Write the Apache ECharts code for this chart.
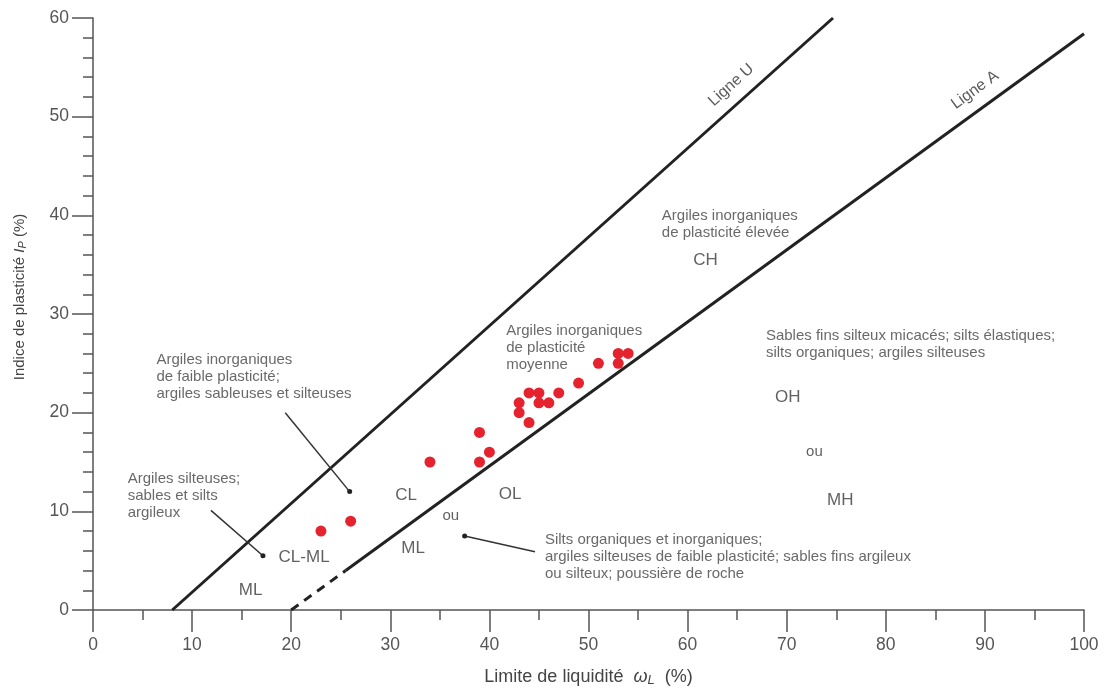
<!DOCTYPE html>
<html>
<head>
<meta charset="utf-8">
<script src="https://cdn.jsdelivr.net/npm/echarts@6/dist/echarts.min.js"></script>
<style>
  html, body { margin: 0; padding: 0; background: #fff; }
  #chart { width: 1108px; height: 688px; }
</style>
</head>
<body>
<div id="chart"></div>
<script>
// measured points (wL, Ip)
const points = [
  [23, 8], [26, 9], [34, 15], [39, 18], [39, 15], [40, 16],
  [43, 21], [43, 20], [44, 22], [45, 22], [45, 21], [46, 21], [44, 19],
  [47, 22], [49, 23], [51, 25], [53, 26], [53, 25], [54, 26]
];

// classification lines
const lineU = [[8, 0], [74.67, 60]];
const lineADashed = [[20, 0], [25.5, 4]];
const lineA = [[25.5, 4], [100, 58.4]];

// leader lines: [from, to], dot on the "to" end
const leaders = [
  [[19.4, 20.0], [25.9, 12.0]],
  [[11.9, 10.1], [17.15, 5.5]],
  [[44.6, 5.9], [37.5, 7.5]]
];

// zone names
const zoneNames = [
  [61.8, 35.4, "CH"],
  [21.3, 5.3, "CL-ML"],
  [15.9, 2.0, "ML"],
  [31.6, 11.6, "CL"],
  [42.1, 11.7, "OL"],
  [32.3, 6.3, "ML"],
  [70.1, 21.6, "OH"],
  [75.4, 11.1, "MH"]
];
const smallNames = [
  [36.1, 9.5, "ou"],
  [72.8, 16.0, "ou"]
];

// descriptive texts (left edge, vertical centre)
const notes = [
  [57.4, 39.1, "Argiles inorganiques\nde plasticité élevée"],
  [41.7, 26.6, "Argiles inorganiques\nde plasticité\nmoyenne"],
  [6.4, 23.6, "Argiles inorganiques\nde faible plasticité;\nargiles sableuses et silteuses"],
  [3.5, 11.6, "Argiles silteuses;\nsables et silts\nargileux"],
  [45.6, 5.4, "Silts organiques et inorganiques;\nargiles silteuses de faible plasticité; sables fins argileux\nou silteux; poussière de roche"],
  [67.9, 26.9, "Sables fins silteux micacés; silts élastiques;\nsilts organiques; argiles silteuses"]
];

// line names along the lines
const lineNames = [
  [64.4, 53.2, "Ligne U", 42],
  [89.0, 52.7, "Ligne A", 36]
];

const font = "Liberation Sans, Arial, sans-serif";
const ink = "#222";
const textGray = "#3a3a3a";

const chart = echarts.init(document.getElementById("chart"));

const series = [
  { type: "line", data: lineU, symbol: "none", lineStyle: { color: ink, width: 3 }, z: 3 },
  { type: "line", data: lineADashed, symbol: "none", lineStyle: { color: ink, width: 3, type: [9, 7] }, z: 3 },
  { type: "line", data: lineA, symbol: "none", lineStyle: { color: ink, width: 3 }, z: 3 }
];

leaders.forEach(([a, b]) => {
  series.push({
    type: "line",
    data: [{ value: a, symbol: "none" }, { value: b, symbol: "circle", symbolSize: 5 }],
    lineStyle: { color: "#333", width: 1.5 },
    itemStyle: { color: "#222" },
    showSymbol: true,
    silent: true,
    z: 3
  });
});

series.push({
  type: "scatter",
  data: points,
  symbolSize: 11,
  itemStyle: { color: "#e5232f", opacity: 1 },
  z: 5
});

series.push({
  type: "scatter",
  symbolSize: 0,
  silent: true,
  data: zoneNames.map(([x, y, t]) => ({
    value: [x, y],
    label: { show: true, position: "inside", formatter: t, fontSize: 17, color: textGray, fontFamily: font }
  })).concat(smallNames.map(([x, y, t]) => ({
    value: [x, y],
    label: { show: true, position: "inside", formatter: t, fontSize: 15, color: textGray, fontFamily: font }
  }))).concat(notes.map(([x, y, t]) => ({
    value: [x, y],
    label: { show: true, position: "right", distance: 0, align: "left", formatter: t, fontSize: 15, lineHeight: 17, color: "#444", fontFamily: font }
  }))).concat(lineNames.map(([x, y, t, r]) => ({
    value: [x, y],
    label: { show: true, position: "inside", formatter: t, rotate: r, fontSize: 16, color: "#333", fontFamily: font }
  }))),
  z: 4
});

const nameRich = {
  n: { fontSize: 18, color: "#444", fontFamily: font },
  w: { fontSize: 18, color: "#444", fontFamily: font, fontStyle: "italic" },
  s: { fontSize: 13, color: "#444", fontFamily: font, fontStyle: "italic", verticalAlign: "bottom", padding: [7, 0, 0, 0] }
};
const yNameRich = {
  n: { fontSize: 15, color: "#444", fontFamily: font },
  w: { fontSize: 15, color: "#444", fontFamily: font, fontStyle: "italic" },
  s: { fontSize: 11, color: "#444", fontFamily: font, fontStyle: "italic", verticalAlign: "bottom", padding: [6, 0, 0, 0] }
};

chart.setOption({
  animation: false,
  grid: { left: 93, right: 24, top: 18, bottom: 78, outerBoundsMode: "none", containLabel: false },
  xAxis: {
    type: "value", min: 0, max: 100, interval: 10,
    name: "{n|Limite de liquidité  }{w|ω}{s|L}{n|  (%)}",
    nameLocation: "middle", nameGap: 57,
    nameTextStyle: { rich: nameRich },
    axisLine: { lineStyle: { color: "#555", width: 1.5 } },
    axisTick: { length: 22, lineStyle: { color: "#555", width: 1.5 } },
    minorTick: { show: true, splitNumber: 2, length: 10, lineStyle: { color: "#555", width: 1.5 } },
    axisLabel: { margin: 26, fontSize: 17.5, color: "#555", fontFamily: font },
    splitLine: { show: false }
  },
  yAxis: {
    type: "value", min: 0, max: 60, interval: 10,
    name: "{n|Indice de plasticité }{w|I}{s|P}{n| (%)}",
    nameLocation: "middle", nameGap: 65,
    nameTextStyle: { rich: yNameRich, padding: [0, 0, 0, 34] },
    axisLine: { show: true, lineStyle: { color: "#555", width: 1.5 } },
    axisTick: { show: true, length: 21, lineStyle: { color: "#555", width: 1.5 } },
    minorTick: { show: true, splitNumber: 5, length: 10, lineStyle: { color: "#555", width: 1.5 } },
    axisLabel: { margin: 24, fontSize: 17.5, color: "#555", fontFamily: font },
    splitLine: { show: false }
  },
  series: series
});
</script>
</body>
</html>
